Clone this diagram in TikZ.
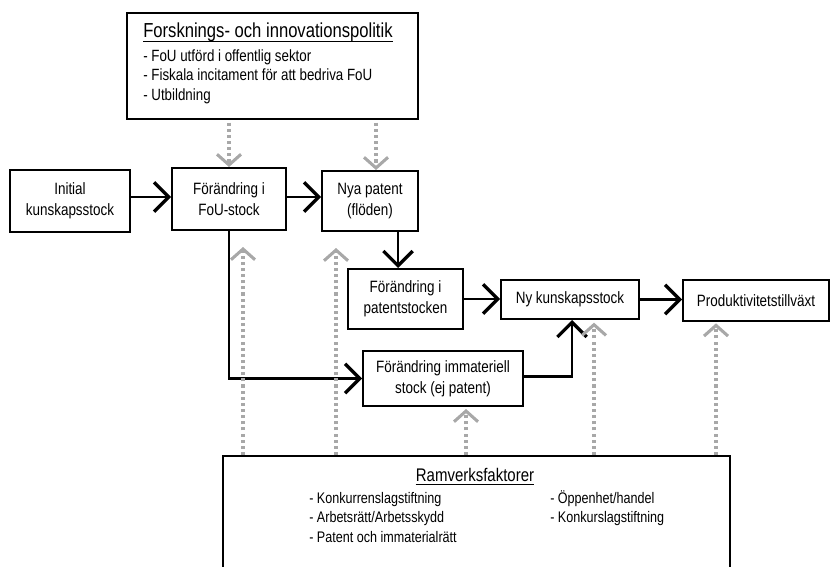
\documentclass[tikz,border=0pt]{standalone}
\usepackage{fontspec}
\setmainfont{Liberation Sans}[FakeStretch=0.82]
\usetikzlibrary{arrows.meta}
\definecolor{dotgray}{RGB}{168,168,168}
\begin{document}
\begin{tikzpicture}[x=0.75pt,y=-0.75pt,
  box/.style={draw=black,line width=1.5pt,fill=white,align=center,inner sep=0pt,
    font=\fontsize{12.3}{15.75}\selectfont},
  lbl/.style={inner sep=0pt,anchor=base west,font=\fontsize{12.2}{14}\selectfont},
  uline/.style={draw=black,line width=0.8pt},
  arr/.style={draw=black,line width=2.2pt,-{Straight Barb[length=11pt,width=22pt,line width=2.4pt]}},
  garr/.style={draw=dotgray,line width=2.4pt,dash pattern=on 2.3pt off 2.3pt,
    -{Straight Barb[length=8pt,width=18pt,line width=2.3pt]}}]
\useasboundingbox (0,0) rectangle (835,567);
\clip (0,0) rectangle (835,567);
% boxes
\node[box,minimum width=218.25pt,minimum height=79.5pt] (policy) at (272.5,66) {};
\node[lbl,font=\fontsize{15.2}{18}\selectfont] (ptitle) at (143,38) {Forsknings- och innovationspolitik};
\draw[uline] ([yshift=-2.6pt]ptitle.base west) -- ([yshift=-2.6pt]ptitle.base east);
\node[lbl] (p1) at (143,62) {- FoU utförd i offentlig sektor};
\node[lbl] (p2) at (143,81) {- Fiskala incitament för att bedriva FoU};
\node[lbl] (p3) at (143,100) {- Utbildning};

\node[box,minimum width=90pt,minimum height=46.5pt] (initial) at (70,201) {Initial\\kunskapsstock};
\node[box,minimum width=85.5pt,minimum height=46.5pt] (fou) at (229,199) {Förändring i\\FoU-stock};
\node[box,minimum width=72pt,minimum height=45pt] (nya) at (370,201) {Nya patent\\(flöden)};
\node[box,minimum width=86.25pt,minimum height=45pt] (patst) at (405.5,299) {Förändring i\\patentstocken};
\node[box,minimum width=103.5pt,minimum height=29.25pt] (ny) at (570,299.5) {Ny kunskapsstock};
\node[box,minimum width=109.5pt,minimum height=30.75pt] (prod) at (756,300.5) {Produktivitetstillväxt};
\node[box,minimum width=120pt,minimum height=41.25pt] (imm) at (443,378.5) {Förändring immateriell\\stock (ej patent)};

\node[box,minimum width=380.25pt,minimum height=93pt] (ram) at (476.5,518) {};
\node[inner sep=0pt,anchor=base,font=\fontsize{13.7}{16}\selectfont] (rtitle) at (475,481) {Ramverksfaktorer};
\draw[uline] ([yshift=-2.6pt]rtitle.base west) -- ([yshift=-2.6pt]rtitle.base east);
\node[lbl,font=\fontsize{11.5}{14}\selectfont] (r1) at (309,503) {- Konkurrenslagstiftning};
\node[lbl,font=\fontsize{11.5}{14}\selectfont] (r2) at (309,522) {- Arbetsrätt/Arbetsskydd};
\node[lbl,font=\fontsize{11.5}{14}\selectfont] (r3) at (309,542) {- Patent och immaterialrätt};
\node[lbl,font=\fontsize{11.5}{14}\selectfont] (r4) at (550,503) {- Öppenhet/handel};
\node[lbl,font=\fontsize{11.5}{14}\selectfont] (r5) at (550,522) {- Konkurslagstiftning};

% black arrows
\draw[arr] ([yshift=3pt]initial.east) -- ([yshift=3pt]initial.east -| fou.west);
\draw[arr] ([yshift=1.5pt]fou.east) -- ([yshift=1.5pt]fou.east -| nya.west);
\draw[arr] ([xshift=21pt]nya.south) -- ([xshift=21pt]nya.south |- patst.north);
\draw[arr] (patst.east) -- (patst.east -| ny.west);
\draw[arr] (ny.east) -- (ny.east -| prod.west);
\draw[arr] (fou.south) -- (fou.south |- imm.west) -- (imm.west);
\draw[arr] ([yshift=1.5pt]imm.east) -| ([xshift=1.5pt]ny.south);

% gray dotted arrows
\draw[garr] ([yshift=-2pt]fou.north |- policy.south) -- (fou.north);
\draw[garr] ([xshift=4.5pt,yshift=-2pt]nya.north |- policy.south) -- ([xshift=4.5pt]nya.north);
\draw[garr,shorten >=12pt] ([xshift=10.5pt]fou.south |- ram.north) -- ([xshift=10.5pt]fou.south);
\draw[garr,shorten >=12pt] ([xshift=-25.5pt]nya.south |- ram.north) -- ([xshift=-25.5pt]nya.south);
\draw[garr,shorten >=1.5pt] ([xshift=17.25pt]imm.south |- ram.north) -- ([xshift=17.25pt]imm.south);
\draw[garr,shorten >=2pt] ([xshift=18pt]ny.south |- ram.north) -- ([xshift=18pt]ny.south);
\draw[garr,shorten >=1pt] ([xshift=-30pt]prod.south |- ram.north) -- ([xshift=-30pt]prod.south);
\end{tikzpicture}
\end{document}
